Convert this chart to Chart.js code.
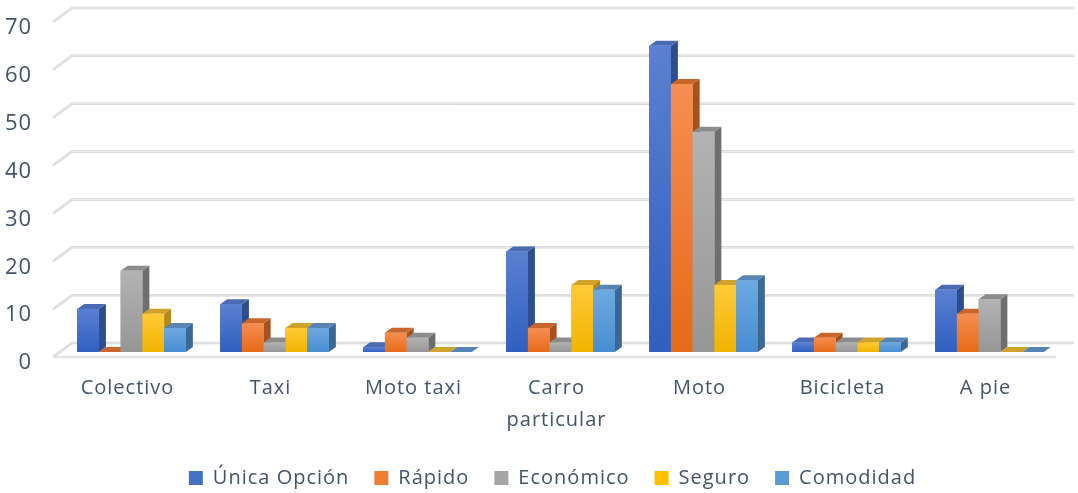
<!DOCTYPE html>
<html>
<head>
<meta charset="utf-8">
<script src="https://cdn.jsdelivr.net/npm/chart.js@4"></script>
<style>
  html, body { margin: 0; padding: 0; background: #ffffff; }
  #wrap { width: 1078px; height: 493px; }
</style>
</head>
<body>
<div id="wrap"><canvas id="chart" width="1078" height="493"></canvas></div>
<script>
// categorías y series
const categories = ["Colectivo", "Taxi", "Moto taxi", ["Carro", "particular"], "Moto", "Bicicleta", "A pie"];
const seriesNames = ["Única Opción", "Rápido", "Económico", "Seguro", "Comodidad"];
const unicaOpcion = [9, 10, 1, 21, 64, 2, 13];
const rapido = [0, 6, 4, 5, 56, 3, 8];
const economico = [17, 2, 3, 2, 46, 2, 11];
const seguro = [8, 5, 0, 14, 14, 2, 0];
const comodidad = [5, 5, 0, 13, 15, 2, 0];
const yTicks = [0, 10, 20, 30, 40, 50, 60, 70];

// colores: frente (arriba, abajo), lado, tapa
const palette = [
  { base: "#4472C4", top: "#5b80d2", bottom: "#2f5fbf", side: "#2d4d8c", cap: "#4a6bb3" },
  { base: "#ED7D31", top: "#f68e52", bottom: "#e66a18", side: "#a5521e", cap: "#c8662b" },
  { base: "#A5A5A5", top: "#b3b3b3", bottom: "#969696", side: "#6e6e6e", cap: "#8c8c8c" },
  { base: "#FFC000", top: "#ffca38", bottom: "#f0b400", side: "#b48a18", cap: "#d1a22a" },
  { base: "#5B9BD5", top: "#6ea9e1", bottom: "#488dd2", side: "#3a6893", cap: "#5584b5" },
];

const textColor = "#44546A";
const DEPTH_X = 7;
const DEPTH_Y = 5;

// espaciado de letras más ancho, como en el original
const spacingPlugin = {
  id: "spacing",
  beforeUpdate(chart) { chart.ctx.letterSpacing = "1px"; },
  beforeLayout(chart) { chart.ctx.letterSpacing = "1px"; },
  beforeDraw(chart) { chart.ctx.letterSpacing = "1px"; },
};

// pared y piso en perspectiva
const wallPlugin = {
  id: "wall3d",
  beforeDatasetsDraw(chart) {
    const ctx = chart.ctx;
    const area = chart.chartArea;
    const y = chart.scales.y;
    ctx.save();
    yTicks.forEach((v) => {
      const py = y.getPixelForValue(v);
      // línea diagonal + horizontal al fondo
      ctx.strokeStyle = "#d4d4d4";
      ctx.lineWidth = 2.5;
      ctx.beginPath();
      ctx.moveTo(area.left - 7, py + 5);
      ctx.lineTo(area.left + 12, py - 9);
      ctx.lineTo(area.right + 13, py - 9);
      ctx.stroke();
      ctx.strokeStyle = "#f3f3f3";
      ctx.lineWidth = 0.8;
      ctx.stroke();
    });
    // borde frontal del piso
    const p0 = y.getPixelForValue(0);
    ctx.strokeStyle = "#d9d9d9";
    ctx.lineWidth = 2.5;
    ctx.beginPath();
    ctx.moveTo(area.left - 7, p0 + 5);
    ctx.lineTo(area.right - 5, p0 + 5);
    ctx.stroke();
    ctx.strokeStyle = "#f3f3f3";
    ctx.lineWidth = 0.8;
    ctx.stroke();
    ctx.restore();
  },
  afterDatasetsDraw(chart) {
    const ctx = chart.ctx;
    ctx.save();
    chart.data.datasets.forEach((ds, i) => {
      const meta = chart.getDatasetMeta(i);
      const col = palette[i];
      meta.data.forEach((bar) => {
        const p = bar.getProps(["x", "y", "base", "width"], true);
        const l = p.x - p.width / 2;
        const r = p.x + p.width / 2;
        const t = Math.min(p.y, p.base);
        const b = p.base;
        // lado
        ctx.fillStyle = col.side;
        ctx.beginPath();
        ctx.moveTo(r, t);
        ctx.lineTo(r + DEPTH_X, t - DEPTH_Y);
        ctx.lineTo(r + DEPTH_X, b - DEPTH_Y);
        ctx.lineTo(r, b);
        ctx.closePath();
        ctx.fill();
        // tapa
        ctx.fillStyle = col.cap;
        ctx.beginPath();
        ctx.moveTo(l, t);
        ctx.lineTo(l + DEPTH_X, t - DEPTH_Y);
        ctx.lineTo(r + DEPTH_X, t - DEPTH_Y);
        ctx.lineTo(r, t);
        ctx.closePath();
        ctx.fill();
        // frente
        if (b - t > 0.5) {
          const g = ctx.createLinearGradient(0, t, 0, b);
          g.addColorStop(0, col.top);
          g.addColorStop(1, col.bottom);
          ctx.fillStyle = g;
          ctx.fillRect(l, t, r - l, b - t);
        }
      });
    });
    ctx.restore();
  },
};

const seriesData = [unicaOpcion, rapido, economico, seguro, comodidad];

new Chart(document.getElementById("chart").getContext("2d"), {
  type: "bar",
  data: {
    labels: categories,
    datasets: seriesData.map((d, i) => ({
      label: seriesNames[i],
      data: d,
      backgroundColor: palette[i].base,
      borderWidth: 0,
      categoryPercentage: 0.76,
      barPercentage: 1.0,
    })),
  },
  options: {
    responsive: false,
    animation: false,
    layout: { padding: { top: 17, right: 17, left: 44, bottom: 0 } },
    plugins: {
      legend: {
        position: "bottom",
        maxHeight: 50,
        labels: {
          color: textColor,
          font: { family: "Open Sans", size: 20 },
          boxWidth: 14,
          boxHeight: 14,
          padding: 25,
        },
      },
      tooltip: { enabled: false },
    },
    scales: {
      x: {
        grid: { display: false, drawTicks: false },
        border: { display: false },
        ticks: {
          color: textColor,
          font: { family: "Open Sans", size: 20, lineHeight: 1.6 },
          padding: 20,
          labelOffset: -4,
          maxRotation: 0,
          autoSkip: false,
        },
        afterFit: (scale) => { scale.height = 91; },
      },
      y: {
        min: 0,
        max: 70,
        grid: { display: false, drawTicks: false },
        border: { display: false },
        ticks: {
          stepSize: 10,
          color: textColor,
          font: { family: "Open Sans", size: 22 },
          mirror: true,
          crossAlign: "far",
          padding: -55,
          labelOffset: 11,
        },
        afterFit: (scale) => { scale.width = 16; },
      },
    },
  },
  plugins: [spacingPlugin, wallPlugin],
});
</script>
</body>
</html>
